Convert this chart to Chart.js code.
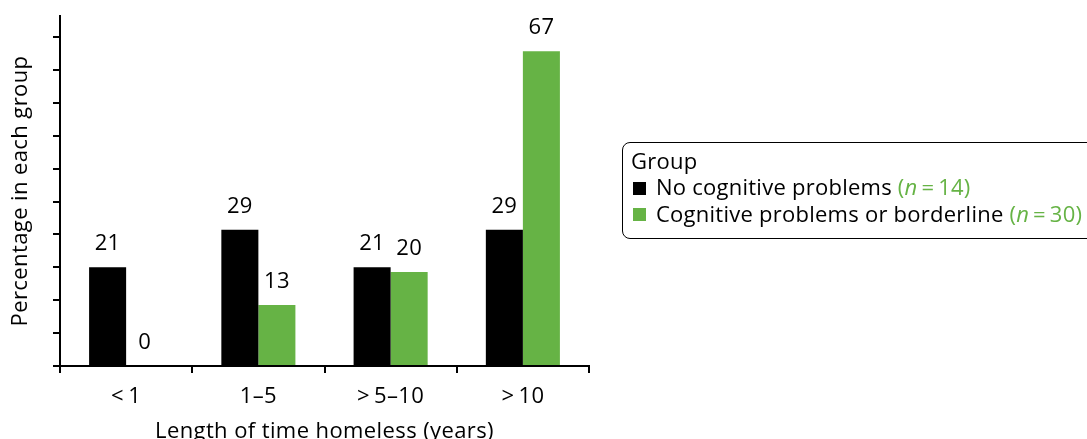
<!DOCTYPE html>
<html>
<head>
<meta charset="utf-8">
<script src="https://cdn.jsdelivr.net/npm/chart.js@4/dist/chart.umd.min.js"></script>
<style>
  html, body { margin: 0; padding: 0; background: #ffffff; }
  #wrap { position: relative; width: 1087px; height: 439px; overflow: hidden; }
  #chart { position: absolute; left: 0; top: 0; }
  #legend {
    position: absolute; left: 622px; top: 142px; width: 480px; height: 97px;
    border: 1.6px solid #000; border-radius: 8px; box-sizing: border-box;
    font-family: "Open Sans", "Noto Sans", sans-serif; font-size: 22px; color: #000;
    padding: 4px 0 0 8px; line-height: 27px; letter-spacing: 0.25px;
  }
  #legend .row { display: flex; align-items: center; white-space: nowrap; height: 26.5px; }
  #legend .sw { width: 13px; height: 13px; margin: 3px 10px 0 2px; display: inline-block; flex: none; }
  #legend .n { color: #66b345; }
  #legend .n i { font-style: italic; }
</style>
</head>
<body>
<div id="wrap">
  <canvas id="chart" width="1087" height="439"></canvas>
  <div id="legend">
    <div class="row">Group</div>
    <div class="row"><span class="sw" style="background:#000000"></span>No cognitive problems&nbsp;<span class="n">(<i>n</i>&#8201;=&#8201;14)</span></div>
    <div class="row"><span class="sw" style="background:#66b345"></span>Cognitive problems or borderline&nbsp;<span class="n">(<i>n</i>&#8201;=&#8201;30)</span></div>
  </div>
</div>
<script>
// Length of time homeless, by cognitive group (percentage in each group)
const categories = ['<\u20091', '1\u20135', '>\u20095\u201310', '>\u200910'];
const noCognitive = [21, 29, 21, 29];
const cognitiveOrBorderline = [0, 13, 20, 67];
const seriesNames = ['No cognitive problems (n = 14)', 'Cognitive problems or borderline (n = 30)'];
const yTickStep = 7;
const yTickTop = 70;
const yAxisMax = 74.5;

const FONT = '"Open Sans", "Noto Sans", sans-serif';
const FONT_SIZE = 22;
const BLACK = '#000000';
const GREEN = '#66b345';

// Slightly looser tracking for all canvas text
const tracking = {
  id: 'tracking',
  beforeDraw(chart) { chart.ctx.letterSpacing = '0.4px'; }
};

// Writes each bar's value just above it
const valueLabels = {
  id: 'valueLabels',
  afterDatasetsDraw(chart) {
    const ctx = chart.ctx;
    ctx.save();
    ctx.font = FONT_SIZE + 'px ' + FONT;
    ctx.fillStyle = '#000';
    ctx.textAlign = 'center';
    ctx.textBaseline = 'alphabetic';
    chart.data.datasets.forEach((ds, i) => {
      chart.getDatasetMeta(i).data.forEach((bar, j) => {
        ctx.fillText(String(ds.data[j]), bar.x, bar.y - 17);
      });
    });
    ctx.restore();
  }
};

// Horizontal axis title, centred under the plot area
const xTitle = {
  id: 'xTitle',
  afterDraw(chart) {
    const ctx = chart.ctx;
    const area = chart.chartArea;
    ctx.save();
    ctx.font = FONT_SIZE + 'px ' + FONT;
    ctx.fillStyle = '#000';
    ctx.textAlign = 'center';
    ctx.textBaseline = 'alphabetic';
    ctx.fillText('Length of time homeless (years)', (area.left + area.right) / 2, 438);
    ctx.restore();
  }
};

new Chart(document.getElementById('chart'), {
  type: 'bar',
  data: {
    labels: categories,
    datasets: [
      { label: seriesNames[0], data: noCognitive, backgroundColor: BLACK, borderWidth: 0 },
      { label: seriesNames[1], data: cognitiveOrBorderline, backgroundColor: GREEN, borderWidth: 0 }
    ]
  },
  options: {
    responsive: false,
    animation: false,
    devicePixelRatio: 1,
    layout: { padding: { top: 16, right: 498, left: 0, bottom: 0 } },
    plugins: { legend: { display: false }, tooltip: { enabled: false } },
    datasets: { bar: { categoryPercentage: 0.56, barPercentage: 1.0 } },
    scales: {
      x: {
        offset: true,
        border: { display: true, color: '#000', width: 2 },
        grid: { display: true, offset: true, drawOnChartArea: false, drawTicks: true, tickLength: 7, color: '#000', lineWidth: 2 },
        ticks: { color: '#000', font: { family: FONT, size: FONT_SIZE }, padding: 11, maxRotation: 0 },
        afterFit(scale) { scale.height = 73; }
      },
      y: {
        min: 0,
        max: yAxisMax,
        border: { display: true, color: '#000', width: 2 },
        grid: { display: true, drawOnChartArea: false, drawTicks: true, tickLength: 7, color: '#000', lineWidth: 2 },
        ticks: { display: false, stepSize: yTickStep },
        afterBuildTicks(scale) { scale.ticks = scale.ticks.filter(t => t.value <= yTickTop); },
        title: { display: true, text: 'Percentage in each group', color: '#000', font: { family: FONT, size: FONT_SIZE }, padding: { top: 8, bottom: 0 } },
        afterFit(scale) { scale.width = 60; }
      }
    }
  },
  plugins: [tracking, valueLabels, xTitle]
});
</script>
</body>
</html>
